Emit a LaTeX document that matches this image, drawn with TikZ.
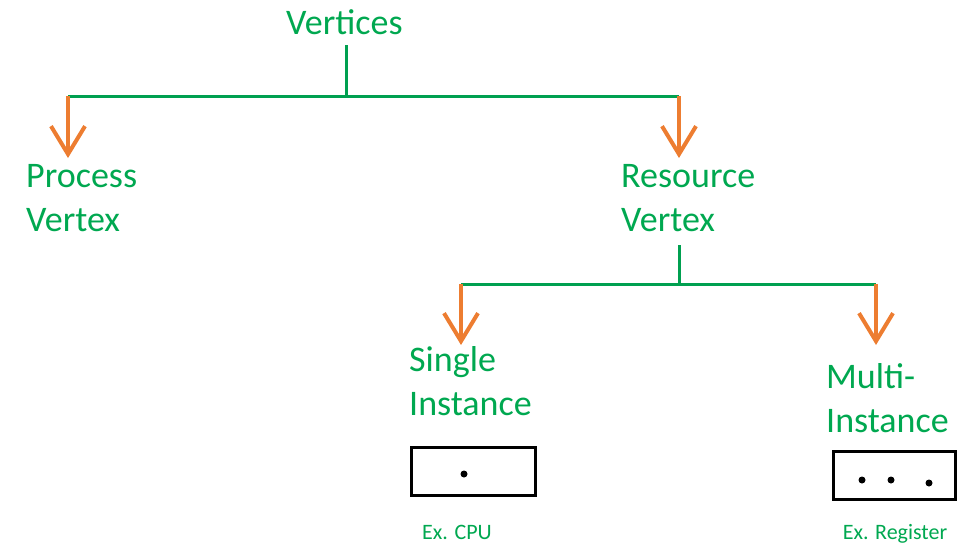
\documentclass[tikz,border=0pt]{standalone}
\usepackage{fontspec}
\setmainfont{Carlito}
\usetikzlibrary{arrows.meta}
\definecolor{tgreen}{RGB}{0,168,80}
\definecolor{lgreen}{RGB}{0,160,80}
\definecolor{aorange}{RGB}{237,125,49}
\tikzset{
  big/.style={text=tgreen, inner sep=0pt, anchor=base west, align=left, font=\fontsize{36}{44}\selectfont},
  small/.style={text=tgreen, inner sep=0pt, anchor=base, font=\fontsize{22}{26}\selectfont},
  tree/.style={draw=lgreen, line width=3pt},
  down/.style={draw=aorange, line width=4pt, -{Straight Barb[length=28pt,width=34pt,line width=4pt]}},
  box/.style={draw=black, line width=3pt, fill=white},
  dotc/.style={fill=black, circle, inner sep=0pt, minimum size=7pt}
}
\begin{document}
\begin{tikzpicture}[x=1pt,y=-1pt]
\useasboundingbox (0,0) rectangle (963,554);
% texts
\node[big] (vert) at (286,34) {Vertices};
\node[big] (proc) at (26,231) {Process\\Vertex};
\node[big] (res) at (621,231) {Resource\\Vertex};
\node[big] (single) at (409,415) {Single\\Instance};
\node[big] (multi) at (826,432) {Multi-\\Instance};
\node[small] (excpu) at (457,539) {Ex. CPU};
\node[small] (exreg) at (895,539) {Ex. Register};
% boxes
\node[box, minimum width=124pt, minimum height=48pt] (b1) at (473,471.5) {};
\node[box, minimum width=122pt, minimum height=48pt] (b2) at (894,475) {};
\node[dotc] (d1) at (464,474) {};
\node[dotc] (d2) at (862,480) {};
\node[dotc] (d3) at (891,480) {};
\node[dotc] (d4) at (929,483) {};
% junctions
\coordinate (t0) at (346,45);
\coordinate (j1) at (346,96);
\coordinate (jl) at (68,96);
\coordinate (jr) at (679,96);
\coordinate (al) at (68,158);
\coordinate (ar) at (679,158);
\coordinate (t1) at (679,245);
\coordinate (j2) at (679,284);
\coordinate (kl) at (461,284);
\coordinate (kr) at (876,284);
\coordinate (bl) at (461,345);
\coordinate (br) at (876,345);
% tree lines
\draw[tree] (t0) -- (j1);
\draw[tree] (jl) -- (jr);
\draw[tree] (t1) -- (j2);
\draw[tree] (kl) -- (kr);
% arrows
\draw[down] (jl) -- (al);
\draw[down] (jr) -- (ar);
\draw[down] (kl) -- (bl);
\draw[down] (kr) -- (br);
\end{tikzpicture}
\end{document}
